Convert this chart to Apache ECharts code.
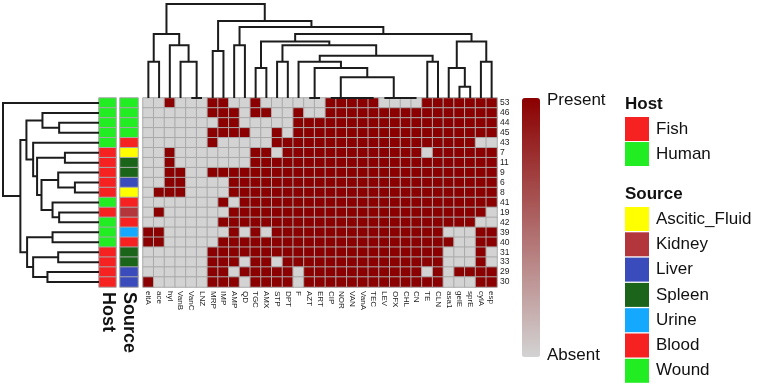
<!DOCTYPE html>
<html>
<head>
<meta charset="utf-8">
<script src="https://cdn.jsdelivr.net/npm/echarts@6/dist/echarts.min.js"></script>
<style>
html, body { margin: 0; padding: 0; background: #fff; }
#chart { width: 758px; height: 391px; }
</style>
</head>
<body>
<div id="chart"></div>
<script>
// columns, in dendrogram order
var genes = ['eltA','ace','hyl','VanB','VanC','LNZ','MRP','IMP','AMP','QD','TGC','AMX','STP','DPT','F','AZT','ERT','CIP','NOR','VAN','VanA','TEC','LEV','OFX','CHL','CN','TE','CLN','asa1','gelE','sprE','cylA','esp'];
// rows (isolates), in dendrogram order
var isolates = ['53','46','44','45','43','7','11','9','6','8','41','19','42','39','40','31','33','29','30'];

var hostNames = ['Fish', 'Human'];
var sourceNames = ['Ascitic_Fluid', 'Kidney', 'Liver', 'Spleen', 'Urine', 'Blood', 'Wound'];

var rowHost = ['Human','Human','Human','Human','Human','Fish','Fish','Fish','Fish','Fish','Human','Fish','Human','Human','Human','Fish','Fish','Fish','Fish'];
var rowSource = ['Wound','Wound','Wound','Wound','Blood','Ascitic_Fluid','Spleen','Spleen','Liver','Ascitic_Fluid','Blood','Kidney','Blood','Urine','Blood','Spleen','Spleen','Liver','Liver'];

// 1 = present, 0 = absent (one string per isolate, one char per column)
var presence = [
    '001000110010000001111100001111111',
    '000000111011001001111111111111111',
    '000000011000001111111111111111111',
    '000000111100101111111111111111111',
    '000000100000111111111111111111100',
    '001000000011011111111111110111111',
    '001000000011111111111111111111111',
    '001100111111111111111111111111111',
    '001100001111111111111111111111111',
    '011100001111111111111111111111111',
    '000000010111111111111111111111111',
    '010000001111111111111111111111110',
    '000000011111111111111111111111100',
    '110000001010111111111111111100011',
    '110000011111111111111111111110011',
    '000000111111111111111111111100010',
    '000000111011011111111111111100010',
    '000000110111110111111111110101111',
    '100000111011110111111111111100011'
];

// dendrograms: [left, right, height], leaves are column / row indices
var colTree = [
    [[0, 1, 0.385], [2, [3, [4, 5, 0], 0.385], 0.56], 0.68],
    [[6, 7, 0.50],
     [[8, 9, 0.56],
      [[[10, 11, 0.32],
        [[12, 13, 0.385],
         [[14, [[15, 16, 0], [[17, [18, [19, [20, 21, 0], 0], 0], 0], [22, [23, [24, 25, 0], 0], 0], 0.22], 0.32], 0.385],
          [26, 27, 0.385], 0.45], 0.56], 0.60],
       [[28, [29, 30, 0.12], 0.32], [31, 32, 0.385], 0.60], 0.68], 0.755], 0.82],
    1.0];

var rowTree = [
    0,
    [[[1, [2, 3, 0.415], 0.589],
      [4, [[5, 6, 0.355], [[7, [8, 9, 0.251], 0.425], [10, [11, 12, 0.415], 0.484], 0.599], 0.645], 0.686], 0.756],
     [[13, 14, 0.484], [[15, 16, 0.425], [17, 18, 0.537], 0.686], 0.749], 0.819],
    1.0];

var hostColors = ['#f62222', '#22ec22'];
var sourceColors = ['#ffff00', '#b3363d', '#3a4cbc', '#1b651b', '#14a8ff', '#f62222', '#22ec22'];
var FONT = '"Liberation Sans", Arial, sans-serif';

// walk a tree and collect the elbow segments
function dendro(node, segs) {
    if (typeof node === 'number') return { pos: node, h: 0 };
    var l = dendro(node[0], segs), r = dendro(node[1], segs), h = node[2];
    segs.push([[l.pos, l.h], [l.pos, h], [r.pos, h], [r.pos, r.h]]);
    return { pos: (l.pos + r.pos) / 2, h: h };
}
var colSegs = [], rowSegs = [];
dendro(colTree, colSegs);
dendro(rowTree, rowSegs);

var cells = [];
presence.forEach(function (s, r) {
    for (var c = 0; c < genes.length; c++) cells.push([c, r, +s.charAt(c)]);
});
var hostCells = rowHost.map(function (h, r) { return [0, r, hostNames.indexOf(h)]; });
var sourceCells = rowSource.map(function (s, r) { return [0, r, sourceNames.indexOf(s)]; });

var cellStyle = { borderColor: '#a9a9a9', borderWidth: 1 };
var lineStyle = { color: '#1c1c1c', width: 2, opacity: 1 };
var noAxis = { show: false };

function pieceLegend(idx, names, colors, top, gap) {
    return {
        type: 'piecewise', seriesIndex: idx, dimension: 2, orient: 'vertical', inverse: true,
        left: 625, top: top, padding: 0, itemWidth: 24, itemHeight: 24, itemGap: gap, textGap: 7,
        align: 'left', itemSymbol: 'rect', selectedMode: false, hoverLink: false,
        textStyle: { fontSize: 17, color: '#111' },
        pieces: names.map(function (n, i) { return { value: i, label: n, color: colors[i] }; })
    };
}

var chart = echarts.init(document.getElementById('chart'));
chart.setOption({
    animation: false,
    textStyle: { fontFamily: FONT },
    grid: [
        { left: 143, top: 98, width: 354, height: 189 },   // heatmap
        { left: 99, top: 98, width: 17, height: 189 },     // host
        { left: 120, top: 98, width: 18, height: 189 },    // source
        { left: 143, top: 4, width: 354, height: 94 },     // column dendrogram
        { left: 3, top: 98, width: 96, height: 189 }       // row dendrogram
    ],
    xAxis: [
        { gridIndex: 0, type: 'category', data: genes, axisLine: noAxis, axisTick: noAxis,
          axisLabel: { rotate: -90, interval: 0, fontSize: 8, color: '#222', margin: 4 } },
        { gridIndex: 1, type: 'category', data: ['Host'], axisLine: noAxis, axisTick: noAxis,
          axisLabel: { rotate: -90, fontSize: 18, fontWeight: 'bold', color: '#111', margin: 5 } },
        { gridIndex: 2, type: 'category', data: ['Source'], axisLine: noAxis, axisTick: noAxis,
          axisLabel: { rotate: -90, fontSize: 18, fontWeight: 'bold', color: '#111', margin: 5 } },
        { gridIndex: 3, type: 'value', min: -0.5, max: genes.length - 0.5, show: false },
        { gridIndex: 4, type: 'value', min: 0, max: 1, inverse: true, show: false }
    ],
    yAxis: [
        { gridIndex: 0, type: 'category', data: isolates, inverse: true, position: 'right',
          axisLine: noAxis, axisTick: noAxis, axisLabel: { interval: 0, fontSize: 8.5, color: '#222', margin: 3 } },
        { gridIndex: 1, type: 'category', data: isolates, inverse: true, show: false },
        { gridIndex: 2, type: 'category', data: isolates, inverse: true, show: false },
        { gridIndex: 3, type: 'value', min: 0, max: 1, show: false },
        { gridIndex: 4, type: 'value', min: -0.5, max: isolates.length - 0.5, inverse: true, show: false }
    ],
    visualMap: [
        { type: 'continuous', seriesIndex: 0, min: 0, max: 1, left: 522, top: 98,
          itemWidth: 18, itemHeight: 259, padding: 0, calculable: false, hoverLink: false,
          inRange: { color: ['#d3d3d3', '#8b0000'] } },
        pieceLegend(1, hostNames, hostColors, 117, 1),
        pieceLegend(2, sourceNames, sourceColors, 207, 1.3)
    ],
    graphic: [
        { type: 'text', left: 547, top: 92, style: { text: 'Present', fontSize: 17, fill: '#111', fontFamily: FONT } },
        { type: 'text', left: 547, top: 347, style: { text: 'Absent', fontSize: 17, fill: '#111', fontFamily: FONT } },
        { type: 'text', left: 625, top: 96, style: { text: 'Host', fontSize: 17, fontWeight: 'bold', fill: '#111', fontFamily: FONT } },
        { type: 'text', left: 625, top: 186, style: { text: 'Source', fontSize: 17, fontWeight: 'bold', fill: '#111', fontFamily: FONT } }
    ],
    series: [
        { type: 'heatmap', xAxisIndex: 0, yAxisIndex: 0, data: cells, itemStyle: cellStyle, emphasis: { disabled: true } },
        { type: 'heatmap', xAxisIndex: 1, yAxisIndex: 1, data: hostCells, itemStyle: cellStyle, emphasis: { disabled: true } },
        { type: 'heatmap', xAxisIndex: 2, yAxisIndex: 2, data: sourceCells, itemStyle: cellStyle, emphasis: { disabled: true } },
        { type: 'lines', coordinateSystem: 'cartesian2d', xAxisIndex: 3, yAxisIndex: 3, polyline: true,
          lineStyle: lineStyle, silent: true,
          data: colSegs.map(function (s) { return { coords: s }; }) },
        { type: 'lines', coordinateSystem: 'cartesian2d', xAxisIndex: 4, yAxisIndex: 4, polyline: true,
          lineStyle: lineStyle, silent: true,
          data: rowSegs.map(function (s) { return { coords: s.map(function (p) { return [p[1], p[0]]; }) }; }) }
    ]
});
</script>
</body>
</html>
